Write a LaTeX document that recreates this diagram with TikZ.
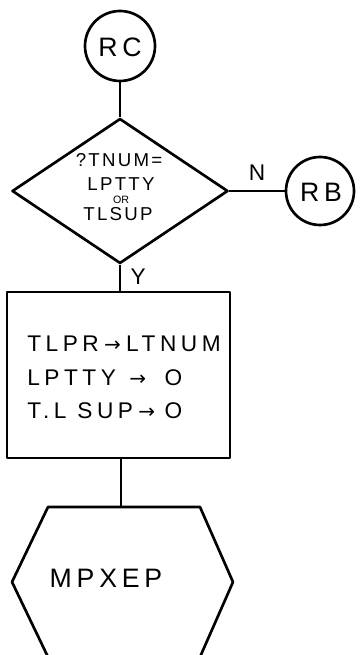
\documentclass[tikz,border=0pt]{standalone}
\usepackage{fontspec}
\setmainfont{Liberation Sans}
\newfontfamily\arr{DejaVu Sans}
\usetikzlibrary{shapes.geometric}
\tikzset{
  ln/.style={line width=2pt, line join=round},
  conn/.style={circle, draw, ln, minimum size=#1, inner sep=0pt},
  lbl/.style={font=\fontsize{17}{17}\selectfont\addfontfeature{LetterSpace=20}, inner sep=0pt},
  big/.style={font=\fontsize{20}{20}\selectfont\addfontfeature{LetterSpace=18}, inner sep=0pt},
  small/.style={font=\fontsize{14}{14}\selectfont\addfontfeature{LetterSpace=12}, inner sep=0pt},
}
\newcommand{\ar}{\hspace{4pt}{\arr\fontsize{15}{15}\selectfont →}\hspace{4pt}}
\begin{document}
\begin{tikzpicture}[x=0.75pt,y=-0.75pt]
\useasboundingbox (0,0) rectangle (360,655);
% start connector
\node[conn=52.5pt] (rc) at (120,46) {};
\node[big] (rct) at (120,47) {RC};
% decision
\node[diamond, draw, ln, minimum width=162pt, minimum height=108.75pt, inner sep=0pt] (dec) at (120,191) {};
\node[small] (d1) at (119,160) {?TNUM=};
\node[small] (d2) at (121,184) {LPTTY};
\node[font=\fontsize{8}{8}\selectfont, inner sep=0pt] (d3) at (121,200) {OR};
\node[small] (d4) at (118,214) {TLSUP};
% RB connector
\node[conn=51pt] (rb) at (320,191) {};
\node[big] (rbt) at (321,192) {RB};
\draw[ln] (dec.east) -- node[lbl, above, yshift=7pt] (n) {N} (rb.west);
% process box
\node[draw, ln, minimum width=167.25pt, minimum height=124.5pt, inner sep=0pt] (box) at (118.5,375) {};
\node[lbl, anchor=west] (b1) at (27,344) {TLPR\ar LTNUM};
\node[lbl, anchor=west] (b2) at (27,378) {LPTTY\hspace{6pt}\ar\hspace{10pt}O};
\node[lbl, anchor=west] (b3) at (27,411) {T.L SUP\ar\hspace{3pt}O};
\draw[ln] (rc.south) -- (dec.north);
\draw[ln] (dec.south) -- node[lbl, right, xshift=7pt, pos=0.45] (y) {Y} (box.north -| dec.south);
% hexagon
\coordinate (h1) at (48,507);
\coordinate (h2) at (200,507);
\coordinate (h3) at (233,582);
\coordinate (h4) at (200,657);
\coordinate (h5) at (48,657);
\coordinate (h6) at (12,582);
\draw[ln] (h1) -- (h2) -- (h3) -- (h4) -- (h5) -- (h6) -- cycle;
\coordinate (htop) at (121,507);
\node[big] (hx) at (106,578) {MPXEP};
\draw[ln] (box.south -| htop) -- (htop);
\end{tikzpicture}
\end{document}
